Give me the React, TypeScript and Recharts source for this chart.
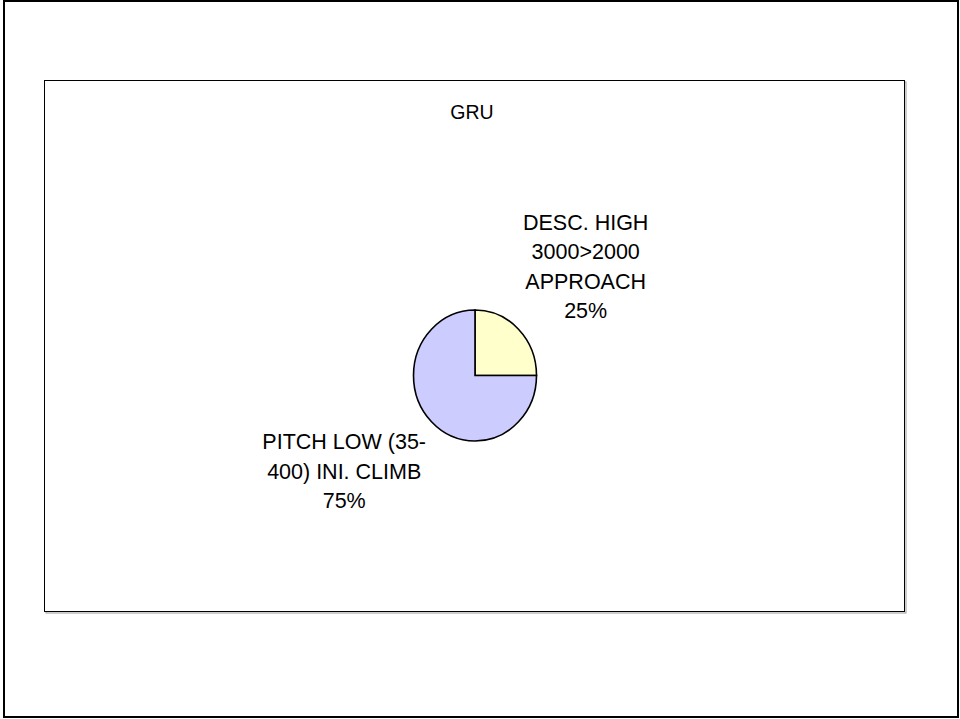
import React from 'react';
import { PieChart, Pie, Cell, Customized } from 'recharts';

// Chart title
const chartTitle = 'GRU';

// Category labels, already split into the lines they are drawn on
const categoryLines: string[][] = [
  ['DESC. HIGH', '3000>2000', 'APPROACH'],
  ['PITCH LOW (35-', '400) INI. CLIMB'],
];

// Share of each category (percent)
const shareValues: number[] = [25, 75];

// Slice fills
const sliceColors: string[] = ['#FFFFCC', '#CCCCFF'];

const data = categoryLines.map((lines, i) => ({
  name: lines.join(' '),
  lines,
  value: shareValues[i],
}));

const FONT = "'Liberation Sans', Arial, Helvetica, sans-serif";
const LABEL_SIZE = 21.5;
const LINE_H = 29.5;
const Y_STRETCH = 1.065;

let measureCtx: CanvasRenderingContext2D | null = null;
function textWidth(s: string, size: number): number {
  if (!measureCtx) {
    const c = document.createElement('canvas');
    measureCtx = c.getContext('2d');
  }
  if (!measureCtx) return s.length * size * 0.55;
  measureCtx.font = `${size}px ${FONT}`;
  return measureCtx.measureText(s).width;
}

const RAD = Math.PI / 180;

// Slightly oval sector, built from the angles the Pie computes
function OvalSector(props: any) {
  const { cx, cy, outerRadius, startAngle, endAngle, fill } = props;
  const rx = outerRadius;
  const ry = outerRadius * Y_STRETCH;
  const px = (a: number) => cx + rx * Math.cos(a * RAD);
  const py = (a: number) => cy - ry * Math.sin(a * RAD);
  const sweepDeg = Math.abs(endAngle - startAngle);
  const large = sweepDeg > 180 ? 1 : 0;
  const sweep = startAngle > endAngle ? 1 : 0;
  const d = `M ${cx} ${cy} L ${px(startAngle)} ${py(startAngle)} A ${rx} ${ry} 0 ${large} ${sweep} ${px(endAngle)} ${py(endAngle)} Z`;
  return <path d={d} fill={fill} stroke="#000" strokeWidth={1.6} strokeLinejoin="miter" />;
}

function renderLabel(props: any) {
  const { cx, cy, midAngle, outerRadius, percent, payload } = props;
  const lines: string[] = [...(payload?.lines ?? []), `${Math.round(percent * 100)}%`];
  const r = outerRadius + 12;
  const cos = Math.cos(midAngle * RAD);
  const sin = Math.sin(midAngle * RAD);
  const ax = cx + r * cos;
  const ay = cy - r * sin * Y_STRETCH;
  const w = Math.max(...lines.map((l) => textWidth(l, LABEL_SIZE)));
  // the text block sits outside the slice, its nearest corner by the anchor point
  const centerX = cos >= 0 ? ax - 4 + w / 2 : ax + 3 - w / 2;
  const firstBaseline = sin >= 0 ? ay - 2 - (lines.length - 1) * LINE_H : ay + 18.5;
  return (
    <text
      x={centerX}
      y={firstBaseline}
      textAnchor="middle"
      fontFamily={FONT}
      fontSize={LABEL_SIZE}
      fill="#000"
    >
      {lines.map((l, i) => (
        <tspan key={i} x={centerX} y={firstBaseline + i * LINE_H}>
          {l}
        </tspan>
      ))}
    </text>
  );
}

function Frames() {
  return (
    <g>
      <rect x={4} y={1} width={954} height={716} fill="none" stroke="#000" strokeWidth={2} />
      <rect x={46} y={82} width={860} height={531} fill="none" stroke="#9a9a9a" strokeWidth={1} />
      <rect x={44.5} y={80.5} width={860} height={531} fill="#fff" stroke="#000" strokeWidth={1} />
      <text x={472} y={118.5} textAnchor="middle" fontFamily={FONT} fontSize={19.5} fill="#000">
        {chartTitle}
      </text>
    </g>
  );
}

export default function App() {
  return (
    <div style={{ position: 'absolute', left: 0, top: 0, width: 960, height: 719, background: '#fff' }}>
      <PieChart width={960} height={719} margin={{ top: 0, right: 0, bottom: 0, left: 0 }}>
        <Customized component={Frames} />
        <Pie
          data={data}
          dataKey="value"
          nameKey="name"
          cx={475}
          cy={375.5}
          outerRadius={61.5}
          startAngle={90}
          endAngle={-270}
          stroke="#000"
          strokeWidth={1.6}
          shape={OvalSector}
          label={renderLabel}
          labelLine={false}
          isAnimationActive={false}
        >
          {data.map((d, i) => (
            <Cell key={d.name} fill={sliceColors[i]} />
          ))}
        </Pie>
      </PieChart>
    </div>
  );
}
